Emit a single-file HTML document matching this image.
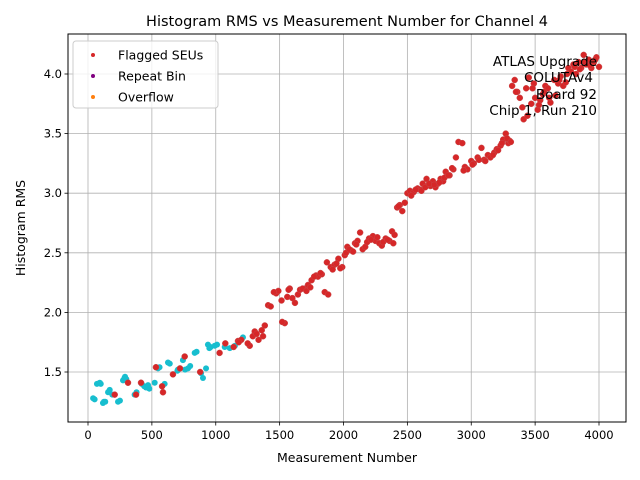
<!DOCTYPE html>
<html><head><meta charset="utf-8"><style>
html,body{margin:0;padding:0;background:#fff;}
svg{display:block;font-family:"DejaVu Sans","Liberation Sans",sans-serif;}
</style></head><body>
<svg id="chart" width="640" height="480" viewBox="0 0 640 480">
<text x="347" y="26" font-size="14.5" text-anchor="middle">Histogram RMS vs Measurement Number for Channel 4</text>
<g id="grid"></g>
<g id="ticks"></g>
<g id="marks"></g>
<rect x="68" y="34" width="558" height="388" fill="none" stroke="#000" stroke-width="1"/>
<text x="347" y="462" font-size="12.5" text-anchor="middle">Measurement Number</text>
<text x="25" y="228" font-size="12.5" text-anchor="middle" transform="rotate(-90 25 228)">Histogram RMS</text>
<g font-size="13.5" text-anchor="end">
<text x="597" y="66">ATLAS Upgrade</text>
<text x="593" y="82">COLUTAv4</text>
<text x="597" y="99">Board 92</text>
<text x="597" y="115">Chip 1, Run 210</text>
</g>
<g>
<rect x="73" y="41" width="145" height="67" rx="3" fill="#fff" fill-opacity="0.8" stroke="#ccc"/>
<g><circle cx="93" cy="55" r="2" fill="#d62728"/><text x="118" y="59.5" font-size="12.5">Flagged SEUs</text></g>
<g><circle cx="93" cy="76" r="2" fill="#800080"/><text x="118" y="80.5" font-size="12.5">Repeat Bin</text></g>
<g><circle cx="93" cy="97" r="2" fill="#ff7f0e"/><text x="118" y="101.5" font-size="12.5">Overflow</text></g>
</g>
</svg>
<script>
const xTicks=[0,500,1000,1500,2000,2500,3000,3500,4000];
const yTicks=[1.5,2.0,2.5,3.0,3.5,4.0];
const yTickLabels=["1.5","2.0","2.5","3.0","3.5","4.0"];
const cyanX=[40,52,70,92,100,117,125,135,157,165,170,190,235,250,274,285,290,300,365,380,420,440,454,470,480,522,548,560,600,626,640,700,704,720,743,760,783,800,835,850,885,900,924,939,950,960,992,1010,1070,1110,1150,1213];
const cyanY=[1.28,1.27,1.4,1.41,1.4,1.24,1.25,1.25,1.33,1.34,1.35,1.31,1.25,1.26,1.43,1.45,1.46,1.44,1.31,1.33,1.4,1.38,1.37,1.39,1.36,1.41,1.53,1.54,1.4,1.58,1.57,1.51,1.52,1.53,1.6,1.52,1.53,1.55,1.66,1.67,1.49,1.45,1.53,1.73,1.7,1.71,1.72,1.73,1.71,1.70,1.72,1.79];
const redX=[
 209,313,376,415,532,580,587,665,720,757,
 878,1030,1075,1140,1174,1200,1266,1290,1305,1335,
 1360,1384,1410,1430,1473,1490,1515,1540,1560,1579,
 1600,1643,1660,1700,1722,1750,1785,1800,1830,1853,
 1870,1900,1930,1960,1990,2010,2030,2060,2090,2110,
 2130,2150,2170,2200,2230,2250,2280,2300,2330,2360,
 2380,2400,2420,2440,2460,2480,2500,2520,2550,2580,
 2600,2620,2650,2680,2700,2720,2740,2760,2780,2800,
 2830,2860,2880,2900,2930,2950,2970,3000,3020,3050,
 3080,3100,3130,3150,3180,3200,3230,3250,3270,3290,
 3300,3320,3340,3360,3380,3400,3410,3430,3450,3470,
 3490,3500,3520,3540,3560,3580,3600,3620,3650,3680,
 3700,3720,3740,3760,3780,3800,3820,3840,3860,3880,
 3900,3920,3940,3960,3980,4000,
 1180,1250,1320,1370,1455,1520,1570,1620,1680,1710,
 1740,1770,1820,1880,1915,1945,1975,2020,2045,2075,
 2100,2185,2215,2265,2310,2345,2390,2430,2530,2565,
 2610,2640,2670,2710,2750,2790,2820,2850,2940,3010,
 3060,3110,3170,3210,3240,3280,3310,3350,3440,3480,
 3530,3570,3610,3660,3690,3750,3810,3850,3890,3930,
 3970];
const redY=[
 1.31,1.41,1.31,1.41,1.54,1.38,1.33,1.48,1.53,1.63,
 1.50,1.66,1.74,1.71,1.76,1.77,1.72,1.80,1.84,1.77,
 1.85,1.89,2.06,2.05,2.16,2.18,2.10,1.91,2.13,2.20,
 2.12,2.15,2.19,2.20,2.23,2.27,2.31,2.30,2.32,2.17,
 2.42,2.38,2.40,2.45,2.38,2.48,2.55,2.52,2.58,2.60,
 2.67,2.53,2.55,2.62,2.64,2.60,2.58,2.56,2.62,2.60,
 2.68,2.65,2.88,2.90,2.85,2.92,3.00,3.02,3.01,3.04,
 3.03,3.08,3.12,3.06,3.10,3.05,3.08,3.12,3.10,3.18,
 3.15,3.20,3.30,3.43,3.42,3.22,3.20,3.27,3.25,3.30,
 3.38,3.28,3.32,3.30,3.34,3.37,3.40,3.45,3.50,3.42,
 3.44,3.90,3.95,3.85,3.80,3.72,3.62,3.88,3.97,3.75,
 3.92,3.80,3.70,3.78,3.83,3.90,3.88,3.76,3.95,3.92,
 3.98,3.90,3.93,4.05,4.02,4.08,4.00,4.10,4.05,4.16,
 4.08,4.12,4.05,4.10,4.14,4.06,
 1.75,1.74,1.82,1.80,2.17,1.92,2.19,2.08,2.20,2.18,
 2.21,2.30,2.33,2.15,2.36,2.41,2.37,2.50,2.53,2.51,
 2.57,2.59,2.61,2.63,2.59,2.61,2.58,2.89,2.98,3.03,
 3.02,3.05,3.08,3.07,3.09,3.13,3.15,3.21,3.19,3.24,
 3.28,3.27,3.32,3.36,3.42,3.46,3.43,3.85,3.65,3.88,
 3.74,3.85,3.80,3.82,3.95,4.00,4.06,4.04,4.10,4.07,
 4.12];
const X0=68,X1=626,Y0=34,Y1=422;
function sx(v){return 88+v*(511/4000);}
function sy(v){return 372-(v-1.5)*(298/2.5);}
const NS="http://www.w3.org/2000/svg";
const grid=document.getElementById('grid'),ticks=document.getElementById('ticks'),marks=document.getElementById('marks');
function mk(tag,attrs,parent){const e=document.createElementNS(NS,tag);for(const k in attrs)e.setAttribute(k,attrs[k]);parent.appendChild(e);return e;}
xTicks.forEach(v=>{const x=sx(v);
 const g=mk('line',{x1:x,x2:x,y1:Y0,y2:Y1,stroke:'#b0b0b0','stroke-width':0.8},grid);
 
 
 mk('line',{x1:x,x2:x,y1:Y1,y2:Y1+3.5,stroke:'#000','stroke-width':0.8},ticks);
 const t=mk('text',{x:x,y:Y1+17,'font-size':11.5,'text-anchor':'middle'},ticks);t.textContent=v;
 
 });
yTicks.forEach((v,i)=>{const y=sy(v);
 const g=mk('line',{x1:X0,x2:X1,y1:y,y2:y,stroke:'#b0b0b0','stroke-width':0.8},grid);
 
 
 mk('line',{x1:X0-3.5,x2:X0,y1:y,y2:y,stroke:'#000','stroke-width':0.8},ticks);
 const t=mk('text',{x:X0-6,y:y+4,'font-size':11.5,'text-anchor':'end'},ticks);t.textContent=yTickLabels[i];
 
 });
cyanX.forEach((v,i)=>{const c=mk('circle',{cx:sx(v),cy:sy(cyanY[i]),r:3,fill:'#17becf'},marks);
 
 });
redX.forEach((v,i)=>{const c=mk('circle',{cx:sx(v),cy:sy(redY[i]),r:3,fill:'#d62728',stroke:'#c9484a','stroke-width':0.5},marks);
 
 });
</script>
</body></html>
